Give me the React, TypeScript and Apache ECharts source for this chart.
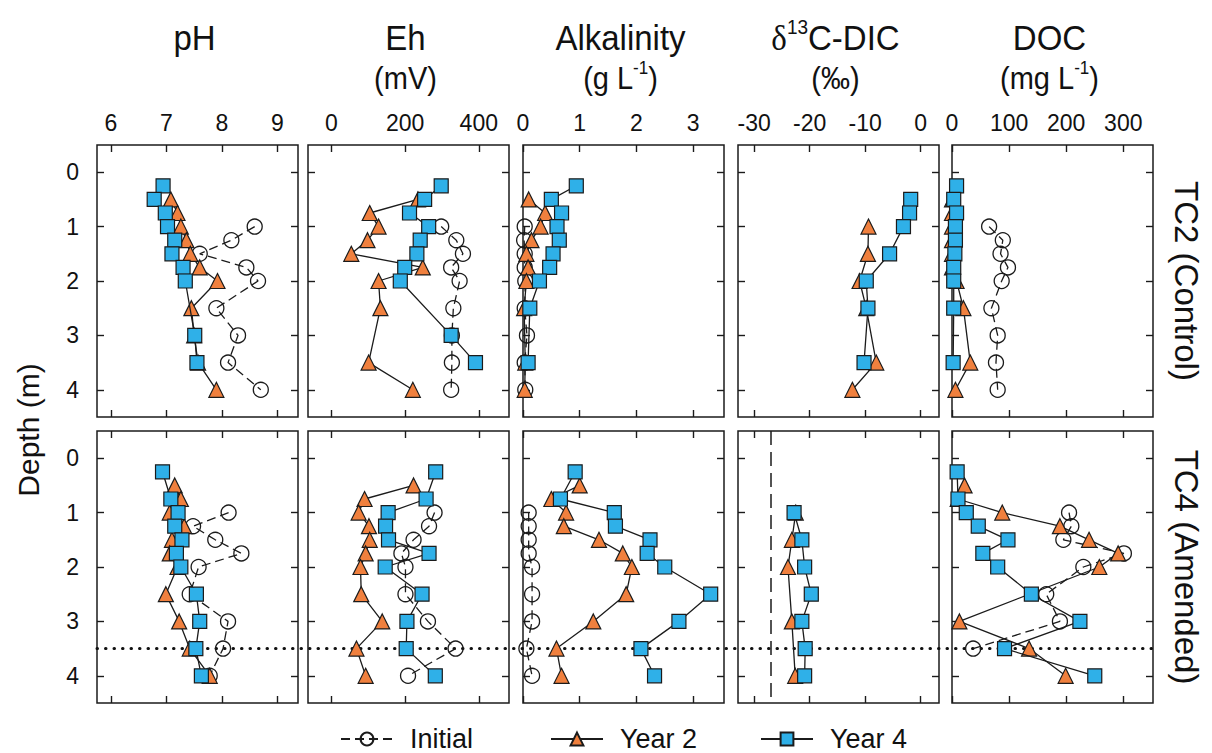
import React, { useEffect, useRef } from 'react';
import * as echarts from 'echarts';

const FONT = "'Liberation Sans', Arial, Helvetica, sans-serif";
const INK = '#1b1b1b';
const ORANGE = '#F0803E';
const BLUE = '#2FB0E8';

// ---------------- data ----------------
const depths = [0.25, 0.5, 0.75, 1, 1.25, 1.5, 1.75, 2, 2.5, 3, 3.5, 4];
const depthTicks = [0, 1, 2, 3, 4];
const depthMin = -0.5;
const depthMax = 4.5;
const amendedRefDepth = 3.5;
const organicD13C = -27;

const siteLabels = ['TC2 (Control)', 'TC4 (Amended)'];
const seriesNames = ['Initial', 'Year 2', 'Year 4'];

// x-axis scales (pH, Eh, Alkalinity, d13C-DIC, DOC)
const xMins = [5.75, -63.5, 0, -32.9, 0];
const xMaxs = [9.37, 482, 3.545, 3.3, 352];
const phTicks = [6, 7, 8, 9];
const ehTicks = [0, 200, 400];
const alkTicks = [0, 1, 2, 3];
const d13cTicks = [-30, -20, -10, 0];
const docTicks = [0, 100, 200, 300];

// TC2 (Control)
const tc2PhInitial = [null, null, null, 8.59, 8.17, 7.6, 8.44, 8.65, 7.9, 8.29, 8.11, 8.7];
const tc2PhYear2 = [null, 7.08, 7.2, 7.26, 7.36, 7.43, 7.6, 7.92, 7.45, 7.5, 7.57, 7.9];
const tc2PhYear4 = [6.94, 6.78, 6.98, 7.02, 7.15, 7.1, 7.3, 7.34, null, 7.51, 7.55, null];

const tc2EhInitial = [null, null, null, 298, 339, 357, 325, 348, 331, 327, 327, 325];
const tc2EhYear2 = [null, 235, 104, 128, 98, 54, 248, 128, 133, null, 101, 221];
const tc2EhYear4 = [298, 253, 212, 264, 241, 232, 199, 187, null, 325, 391, null];

const tc2AlkInitial = [null, null, null, 0.03, 0.02, 0.03, 0.03, 0.04, 0.03, 0.07, 0.03, 0.04];
const tc2AlkYear2 = [null, 0.1, 0.39, 0.31, 0.15, 0.06, 0.09, 0.06, 0.02, null, 0.04, 0.03];
const tc2AlkYear4 = [0.94, 0.5, 0.68, 0.6, 0.64, 0.53, 0.47, 0.29, 0.12, null, 0.09, null];

const tc2D13Initial = [null, null, null, null, null, null, null, null, null, null, null, null];
const tc2D13Year2 = [null, null, null, -9.4, null, -9.5, null, -11.0, -9.8, null, -8.0, -12.3];
const tc2D13Year4 = [null, -1.8, -2.0, -3.1, null, -5.6, null, -9.8, -9.5, null, -10.2, null];

const tc2DocInitial = [null, null, null, 65, 89, 85, 98, 87, 69, 80, 77, 80];
const tc2DocYear2 = [null, 0, 0, 0, 0, 0, 0, 8, 20, null, 32, 6];
const tc2DocYear4 = [8, 3, 8, 6, 6, 5, 3, 3, 3, null, 2, null];

// TC4 (Amended)
const tc4PhInitial = [null, null, null, 8.12, 7.48, 7.88, 8.35, 7.58, 7.42, 8.11, 8.02, 7.78];
const tc4PhYear2 = [null, 7.15, 7.26, 7.06, 7.32, 7.1, 7.06, 7.2, 6.99, 7.23, 7.42, 7.78];
const tc4PhYear4 = [6.93, null, 7.08, 7.21, 7.15, 7.28, 7.18, 7.26, 7.54, 7.6, 7.53, 7.63];

const tc4EhInitial = [null, null, null, 280, 265, 223, 190, 201, 201, 262, 337, 208];
const tc4EhYear2 = [null, 223, 90, 74, 102, 104, 93, 79, 81, 138, 68, 93];
const tc4EhYear4 = [283, null, 257, 154, 147, 155, 265, 146, 246, 205, 203, 282];

const tc4AlkInitial = [null, null, null, 0.1, 0.1, 0.1, 0.1, 0.16, 0.16, 0.16, 0.06, 0.16];
const tc4AlkYear2 = [null, 1.0, 0.5, 0.76, 0.72, 1.34, 1.76, 1.92, 1.82, 1.24, 0.59, 0.68];
const tc4AlkYear4 = [0.92, null, 0.66, 1.61, 1.63, 2.24, 2.19, 2.5, 3.31, 2.75, 2.08, 2.32];

const tc4D13Initial = [null, null, null, null, null, null, null, null, null, null, null, null];
const tc4D13Year2 = [null, null, null, -22.5, null, -23.2, null, -23.9, null, -23.2, null, -22.6];
const tc4D13Year4 = [null, null, null, -22.8, null, -21.4, null, -20.9, -19.7, -21.4, -20.8, -20.9];

const tc4DocInitial = [null, null, null, 205, 209, 195, 301, 230, 165, 189, 37, null];
const tc4DocYear2 = [null, 22, 10, 88, 189, 240, 291, 258, null, 13, 135, 199];
const tc4DocYear4 = [9, null, 10.5, 25, 46, 98, 54, 80, 139, 224, 92, 250];

const xTickSets = [phTicks, ehTicks, alkTicks, d13cTicks, docTicks];
const rowsData = [
  [
    [tc2PhInitial, tc2PhYear2, tc2PhYear4],
    [tc2EhInitial, tc2EhYear2, tc2EhYear4],
    [tc2AlkInitial, tc2AlkYear2, tc2AlkYear4],
    [tc2D13Initial, tc2D13Year2, tc2D13Year4],
    [tc2DocInitial, tc2DocYear2, tc2DocYear4],
  ],
  [
    [tc4PhInitial, tc4PhYear2, tc4PhYear4],
    [tc4EhInitial, tc4EhYear2, tc4EhYear4],
    [tc4AlkInitial, tc4AlkYear2, tc4AlkYear4],
    [tc4D13Initial, tc4D13Year2, tc4D13Year4],
    [tc4DocInitial, tc4DocYear2, tc4DocYear4],
  ],
];

// ---------------- layout ----------------
const panelLefts = [97, 308, 523, 738, 952];
const panelWidth = 201;
const rowTops = [145, 431];
const panelHeight = 272;
const legendLefts = [335, 545, 755];

const seriesStyles = [
  {
    symbol: 'circle',
    symbolSize: 15,
    itemStyle: { color: 'rgba(0,0,0,0)', borderColor: INK, borderWidth: 1.3 },
    lineStyle: { color: INK, width: 1.3, type: [9, 5] },
    z: 2,
  },
  {
    symbol: 'triangle',
    symbolSize: 15,
    itemStyle: { color: ORANGE, borderColor: INK, borderWidth: 1.2 },
    lineStyle: { color: INK, width: 1.3, type: 'solid' },
    z: 3,
  },
  {
    symbol: 'rect',
    symbolSize: 14,
    itemStyle: { color: BLUE, borderColor: INK, borderWidth: 1.2 },
    lineStyle: { color: INK, width: 1.3, type: 'solid' },
    z: 4,
  },
];

function toPairs(vals: (number | null)[]) {
  const out: number[][] = [];
  vals.forEach((v, k) => {
    if (v !== null && v !== undefined) out.push([v, depths[k]]);
  });
  return out;
}

function buildOption() {
  const grid: any[] = [];
  const xAxis: any[] = [];
  const yAxis: any[] = [];
  const series: any[] = [];

  const tickStyle = { color: INK, width: 1.4 };
  for (let r = 0; r < 2; r++) {
    for (let c = 0; c < 5; c++) {
      const p = r * 5 + c;
      grid.push({
        left: panelLefts[c],
        top: rowTops[r],
        width: panelWidth,
        height: panelHeight,
        show: true,
        borderColor: INK,
        borderWidth: 1.5,
        backgroundColor: 'rgba(0,0,0,0)',
        containLabel: false,
        outerBoundsMode: 'none',
      });
      const ticks = xTickSets[c];
      ['top', 'bottom'].forEach((pos, k) => {
        xAxis.push({
          type: 'value',
          gridIndex: p,
          position: pos,
          min: xMins[c],
          max: xMaxs[c],
          axisLine: { show: false, onZero: false },
          splitLine: { show: false },
          axisTick: { show: true, inside: true, length: 7, customValues: ticks, lineStyle: tickStyle },
          axisLabel: {
            show: r === 0 && k === 0,
            customValues: ticks,
            margin: 11,
            fontSize: 23,
            color: '#111',
            fontFamily: FONT,
          },
        });
      });
      ['left', 'right'].forEach((pos, k) => {
        yAxis.push({
          type: 'value',
          gridIndex: p,
          position: pos,
          inverse: true,
          min: depthMin,
          max: depthMax,
          axisLine: { show: false, onZero: false },
          splitLine: { show: false },
          axisTick: { show: true, inside: true, length: 7, customValues: depthTicks, lineStyle: tickStyle },
          axisLabel: {
            show: c === 0 && k === 0,
            customValues: depthTicks,
            margin: 18,
            fontSize: 23,
            color: '#111',
            fontFamily: FONT,
          },
        });
      });

      const groups = rowsData[r][c];
      let markAdded = false;
      groups.forEach((vals, g) => {
        const pairs = toPairs(vals);
        if (!pairs.length) return;
        const st = seriesStyles[g];
        const s: any = {
          type: 'line',
          name: seriesNames[g],
          xAxisIndex: 2 * p,
          yAxisIndex: 2 * p,
          data: pairs,
          symbol: st.symbol,
          symbolSize: st.symbolSize,
          showSymbol: true,
          itemStyle: st.itemStyle,
          lineStyle: st.lineStyle,
          z: st.z,
          clip: false,
          silent: true,
          emphasis: { disabled: true },
        };
        if (r === 1 && c === 3 && !markAdded) {
          s.markLine = {
            silent: true,
            symbol: 'none',
            label: { show: false },
            animation: false,
            z: 1,
            data: [{ xAxis: organicD13C, lineStyle: { color: INK, width: 1.5, type: [14, 7] } }],
          };
          markAdded = true;
        }
        series.push(s);
      });
    }
  }

  const titleCenters = panelLefts.map((l) => l + panelWidth / 2 - 3);
  const titleStyle = { fontSize: 33, fontFamily: FONT, fill: '#111', align: 'center', verticalAlign: 'middle' };
  const subStyle = { fontSize: 29, fontFamily: FONT, fill: '#111', align: 'center', verticalAlign: 'middle' };
  const titleRich = {
    sup: { fontSize: 19, lineHeight: 19, verticalAlign: 'top', fontFamily: FONT, fill: '#111' },
    d: { fontSize: 33, lineHeight: 40, fontFamily: "'Liberation Serif', 'DejaVu Serif', serif", fill: '#111' },
    n: { fontSize: 33, lineHeight: 40, fontFamily: FONT, fill: '#111' },
  };
  const subRich = {
    sup: { fontSize: 17, lineHeight: 17, verticalAlign: 'top', fontFamily: FONT, fill: '#111' },
    n: { fontSize: 29, lineHeight: 36, fontFamily: FONT, fill: '#111' },
  };
  const titles = ['{n|pH}', '{n|Eh}', '{n|Alkalinity}', '{d|δ}{sup|13}{n|C-DIC}', '{n|DOC}'];
  const subs = [null, '{n|(mV)}', '{n|(g L}{sup|-1}{n|)}', '{n|(‰)}', '{n|(mg L}{sup|-1}{n|)}'];

  const graphic: any[] = [];
  titles.forEach((t, i) => {
    graphic.push({
      type: 'text',
      x: titleCenters[i],
      y: 38,
      scaleY: 1.08,
      style: { ...titleStyle, text: t, rich: titleRich },
    });
    if (subs[i]) {
      graphic.push({
        type: 'text',
        x: titleCenters[i],
        y: 78,
        scaleY: 1.08,
        style: { ...subStyle, text: subs[i], rich: subRich },
      });
    }
  });
  graphic.push({
    type: 'text',
    x: 28,
    y: 430,
    rotation: Math.PI / 2,
    style: { text: 'Depth (m)', fontSize: 30, fontFamily: FONT, fill: '#111', align: 'center', verticalAlign: 'middle' },
  });
  siteLabels.forEach((t, r) => {
    graphic.push({
      type: 'text',
      x: 1186,
      y: rowTops[r] + panelHeight / 2,
      rotation: -Math.PI / 2,
      style: { text: t, fontSize: 33, fontFamily: FONT, fill: '#111', align: 'center', verticalAlign: 'middle' },
    });
  });

  const legend = seriesNames.map((n, i) => ({
    data: [n],
    left: legendLefts[i],
    top: 719,
    itemWidth: 52,
    itemHeight: 16,
    selectedMode: false,
    textStyle: { fontSize: 27, lineHeight: 30, fontFamily: FONT, color: '#111', padding: [0, 0, 0, 12] },
  }));

  return {
    animation: false,
    backgroundColor: '#fff',
    grid,
    xAxis,
    yAxis,
    series,
    graphic,
    legend,
  };
}

export default function App() {
  const ref = useRef<HTMLDivElement>(null);
  useEffect(() => {
    const chart = echarts.init(ref.current as HTMLDivElement, undefined, { renderer: 'svg' });
    const option: any = buildOption();
    chart.setOption(option);
    // dotted reference depth line across the amended (TC4) row, placed through the axes' scales
    const firstP = 5;
    const lastP = 9;
    const a = chart.convertToPixel({ xAxisIndex: 2 * firstP, yAxisIndex: 2 * firstP }, [xMins[0], amendedRefDepth]);
    const b = chart.convertToPixel({ xAxisIndex: 2 * lastP, yAxisIndex: 2 * lastP }, [xMaxs[4], amendedRefDepth]);
    if (a && b) {
      option.graphic.push({
        type: 'line',
        z: 1,
        shape: { x1: a[0], y1: a[1], x2: b[0], y2: b[1] },
        style: { stroke: '#111', lineWidth: 3, lineDash: [0.5, 8], lineCap: 'round' },
      });
      chart.setOption(option, true);
    }
    return () => chart.dispose();
  }, []);
  return (
    <div
      ref={ref}
      style={{ position: 'fixed', left: 0, top: 0, width: 1212, height: 753, background: '#fff' }}
    />
  );
}
